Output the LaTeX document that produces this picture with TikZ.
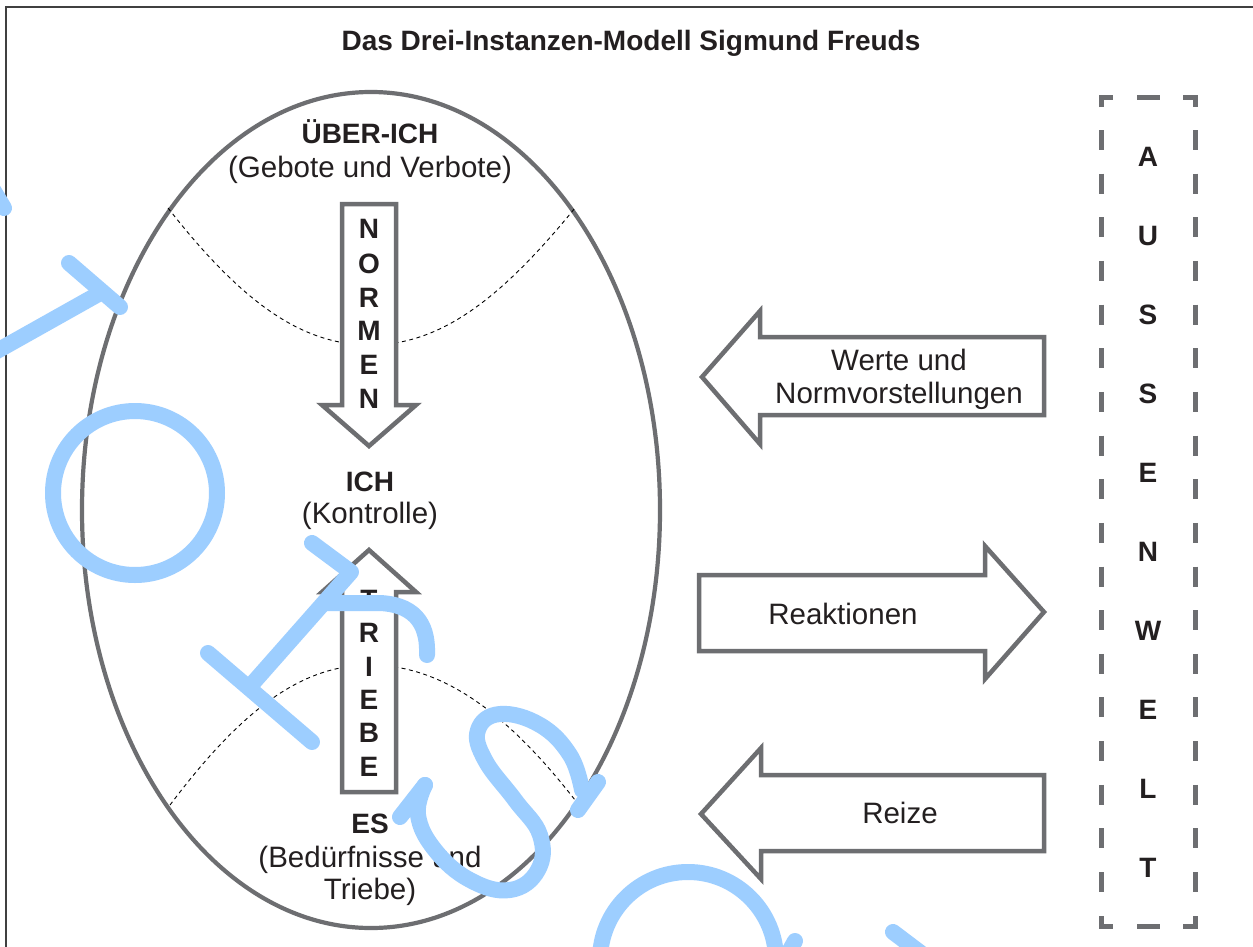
\documentclass[tikz,border=0pt]{standalone}
\usepackage{fontspec}
\setmainfont{Liberation Sans}
\definecolor{ink}{HTML}{231F20}
\definecolor{shapegray}{HTML}{6D6E71}
\definecolor{framegray}{HTML}{404040}
\definecolor{wmblue}{HTML}{9DCEFF}
\begin{document}
\begin{tikzpicture}[x=1bp,y=-1bp,
  txt/.style={text=ink, inner sep=0pt, anchor=base, font=\fontsize{29.5bp}{34bp}\selectfont},
  boldtxt/.style={txt, font=\fontsize{28bp}{33bp}\selectfont\bfseries},
  boldletter/.style={text=ink, inner sep=0pt, anchor=center, font=\fontsize{28bp}{33bp}\selectfont\bfseries},
  shapeline/.style={draw=shapegray, line width=4.5bp, fill=white, line join=miter},
  divider/.style={draw=black, line width=0.9bp, dash pattern=on 4bp off 3.5bp},
  boxline/.style={draw=shapegray, line width=5bp},
  watermark/.style={draw=wmblue, line width=16bp, line cap=round, line join=round}]

\useasboundingbox (0,0) rectangle (1253,947);
\fill[white] (0,0) rectangle (1253,947);

% frame
\draw[framegray, line width=1.5bp] (6,947) -- (6,7) -- (1253,7);

% title
\node[boldtxt] (title) at (631,50) {Das Drei-Instanzen-Modell Sigmund Freuds};

% the psyche as an ellipse
\draw[shapegray, line width=4.2bp] (371,510) ellipse [x radius=289bp, y radius=418bp];

% borders between the instances
\draw[divider] (168,208) .. controls (240,300) and (300,345) .. (370,345)
               .. controls (440,345) and (500,300) .. (575,208);
\draw[divider] (170,805) .. controls (240,712) and (300,665) .. (370,665)
               .. controls (440,665) and (505,710) .. (575,800);

% NORMEN arrow (down)
\draw[shapeline] (342,204) -- (396,204) -- (396,405) -- (416,405) -- (369,446)
  -- (322,405) -- (342,405) -- cycle;
\foreach \ch/\yy [count=\i] in {N/229,O/264,R/298,M/331,E/365,N/399}
  \node[boldletter] (normen\i) at (369,\yy) {\ch};

% TRIEBE arrow (up)
\draw[shapeline] (342,792) -- (342,592) -- (322,592) -- (369,550) -- (416,592)
  -- (396,592) -- (396,792) -- cycle;
\foreach \ch/\yy [count=\i] in {T/600,R/633,I/667,E/700,B/733,E/767}
  \node[boldletter] (triebe\i) at (369,\yy) {\ch};

% instance labels
\node[boldtxt] (ueberich) at (370,143) {ÜBER-ICH};
\node[txt] (ueberichsub) at (370,177) {(Gebote und Verbote)};
\node[boldtxt] (ich) at (370,491) {ICH};
\node[txt] (ichsub) at (370,523) {(Kontrolle)};
\node[boldtxt] (es) at (370,833) {ES};
\node[txt] (essubA) at (370,867) {(Bedürfnisse und};
\node[txt] (essubB) at (370,899) {Triebe)};

% exchange with the outside world
\draw[shapeline] (1044,337) -- (1044,415) -- (760,415) -- (760,444) -- (702,377)
  -- (760,311) -- (760,337) -- cycle;
\node[txt] (werteA) at (899,370) {Werte und};
\node[txt] (werteB) at (899,403) {Normvorstellungen};

\draw[shapeline] (699,575) -- (985,575) -- (985,546) -- (1044,612) -- (985,679)
  -- (985,651) -- (699,651) -- cycle;
\node[txt] (reaktionen) at (843,624) {Reaktionen};

\draw[shapeline] (1044,775) -- (1044,851) -- (761,851) -- (761,879) -- (701,814)
  -- (761,748) -- (761,775) -- cycle;
\node[txt] (reize) at (900,823) {Reize};

% AUSSENWELT box
\draw[boxline] (1101,107) -- (1101,97) -- (1113,97);
\draw[boxline] (1183,97) -- (1195,97) -- (1195,107);
\draw[boxline] (1101,916) -- (1101,926) -- (1113,926);
\draw[boxline] (1183,926) -- (1195,926) -- (1195,916);
\draw[boxline] (1137,97) -- (1160,97);
\draw[boxline] (1137,926) -- (1160,926);
\draw[boxline, dash pattern=on 20bp off 23.65bp] (1101,130) -- (1101,893);
\draw[boxline, dash pattern=on 20bp off 23.65bp] (1195,130) -- (1195,893);
\foreach \ch [count=\i from 0] in {A,U,S,S,E,N,W,E,L,T}
  \node[boldletter] (aussen\i) at (1148,157+79*\i) {\ch};

% handwritten overlay
\draw[watermark] (-8,188) -- (4,208);
\draw[watermark] (-12,356) -- (102,292);
\draw[watermark] (69,263) -- (120,307);
\draw[watermark] (135,493) circle [radius=82bp];
\draw[watermark] (312,543) -- (351,572) -- (253,683);
\draw[watermark] (208,653) -- (312,742);
\draw[watermark] (327,603) -- (380,603) .. controls (420,605) and (428,630) .. (427,655);
\draw[watermark] (400,817) -- (425,785);
\draw[watermark] plot[smooth, tension=0.7] coordinates {(425,785) (418,815) (435,850)
  (470,880) (510,890) (538,870) (540,835) (515,800) (485,760) (478,730) (500,714)
  (540,725) (570,755) (582,790)};
\draw[watermark] (598,782) -- (578,810);
\draw[watermark] (688,960) circle [radius=88bp];
\draw[watermark] (790,950) -- (795,941);
\draw[watermark] (893,932) -- (930,960);
\end{tikzpicture}
\end{document}
